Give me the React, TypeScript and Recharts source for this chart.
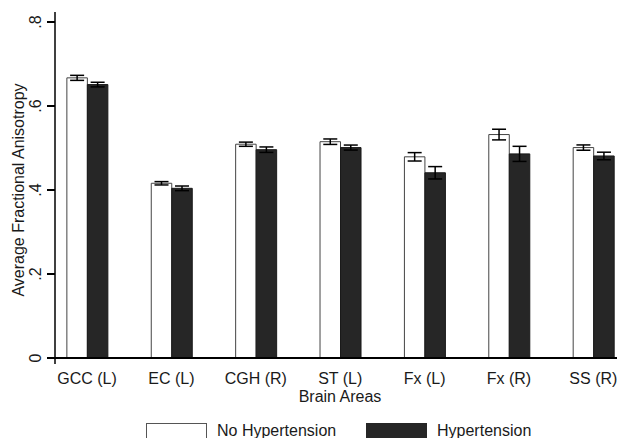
import React from 'react';
import { BarChart, Bar, XAxis, YAxis, ErrorBar } from 'recharts';

const categories = ['GCC (L)', 'EC (L)', 'CGH (R)', 'ST (L)', 'Fx (L)', 'Fx (R)', 'SS (R)'];
const noHypertension = [0.667, 0.416, 0.509, 0.515, 0.479, 0.532, 0.501];
const noHypertensionErr = [0.006, 0.004, 0.005, 0.0065, 0.01, 0.0127, 0.0063];
const hypertension = [0.651, 0.404, 0.496, 0.501, 0.441, 0.486, 0.481];
const hypertensionErr = [0.0055, 0.0055, 0.0065, 0.006, 0.0147, 0.018, 0.009];
const yTicks = [0, 0.2, 0.4, 0.6, 0.8];
const yTickLabels = ['0', '.2', '.4', '.6', '.8'];

const data = categories.map((c, i) => ({
  idx: i,
  name: c,
  noHyp: noHypertension[i],
  noHypErr: noHypertensionErr[i],
  hyp: hypertension[i],
  hypErr: hypertensionErr[i],
}));

const FONT = 'Liberation Sans, Arial, sans-serif';
const TEXT = '#1a1a1a';
const AXIS = '#000000';

const YTick = (props: any) => {
  const { x, y, payload } = props;
  const i = yTicks.indexOf(payload.value);
  const label = i >= 0 ? yTickLabels[i] : String(payload.value);
  return (
    <g>
      <line x1={47} x2={55} y1={y} y2={y} stroke={AXIS} strokeWidth={2} />
      {payload.value === 0 && <line x1={55} x2={55} y1={y} y2={y + 6} stroke={AXIS} strokeWidth={1.5} />}
      <text
        x={x - 5}
        y={y}
        transform={`rotate(-90, ${x - 5}, ${y})`}
        textAnchor="middle"
        fontFamily={FONT}
        fontSize={16}
        fill={TEXT}
      >
        {label}
      </text>
    </g>
  );
};

const XTick = (props: any) => {
  const { x, payload } = props;
  const label = categories[Math.round(payload.value)] ?? '';
  return (
    <text x={x} y={384} textAnchor="middle" fontFamily={FONT} fontSize={16} fill={TEXT}>
      {label}
    </text>
  );
};

const XLabel = (props: any) => {
  const vb = props.viewBox || { x: 55, y: 358, width: 562 };
  const top = vb.y;
  return (
    <g>
      <text x={340} y={top + 43.5} textAnchor="middle" fontFamily={FONT} fontSize={16} fill={TEXT}>
        Brain Areas
      </text>
      <rect x={146.5} y={top + 65.5} width={60} height={22} fill="#ffffff" stroke="#555" strokeWidth={1} />
      <text x={217} y={top + 78} fontFamily={FONT} fontSize={16} fill={TEXT}>
        No Hypertension
      </text>
      <rect x={366.5} y={top + 65.5} width={60} height={22} fill="#262626" stroke="#262626" strokeWidth={1} />
      <text x={437} y={top + 78} fontFamily={FONT} fontSize={16} fill={TEXT}>
        Hypertension
      </text>
    </g>
  );
};

const YLabel = () => (
  <text
    x={23.5}
    y={190}
    transform="rotate(-90, 23.5, 190)"
    textAnchor="middle"
    fontFamily={FONT}
    fontSize={16}
    fill={TEXT}
  >
    Average Fractional Anisotropy
  </text>
);

export default function App() {
  return (
    <div style={{ position: 'absolute', left: 0, top: 0, background: '#fff' }}>
      <BarChart
        width={625}
        height={438}
        data={data}
        margin={{ top: 12, right: 8, left: 0, bottom: 0 }}
        barGap={0}
        barCategoryGap={0}
      >
        <XAxis
          type="number"
          dataKey="idx"
          domain={[-0.38, 6.28]}
          allowDataOverflow
          ticks={[0, 1, 2, 3, 4, 5, 6]}
          tick={<XTick />}
          tickLine={false}
          axisLine={{ stroke: AXIS, strokeWidth: 2 }}
          height={80}
          interval={0}
          label={<XLabel />}
        />
        <YAxis
          type="number"
          domain={[0, 0.8238]}
          allowDataOverflow
          ticks={yTicks}
          tick={<YTick />}
          tickSize={7}
          tickMargin={2}
          width={55}
          tickLine={false}
          axisLine={{ stroke: AXIS, strokeWidth: 1.5 }}
          label={<YLabel />}
        />
        <Bar dataKey="noHyp" fill="#ffffff" stroke="#444" strokeWidth={1} barSize={20.5} isAnimationActive={false}>
          <ErrorBar dataKey="noHypErr" width={7} stroke="#000" strokeWidth={1.5} direction="y" />
        </Bar>
        <Bar dataKey="hyp" fill="#262626" stroke="#1a1a1a" strokeWidth={1} barSize={20.5} isAnimationActive={false}>
          <ErrorBar dataKey="hypErr" width={7} stroke="#000" strokeWidth={1.5} direction="y" />
        </Bar>
      </BarChart>
    </div>
  );
}
